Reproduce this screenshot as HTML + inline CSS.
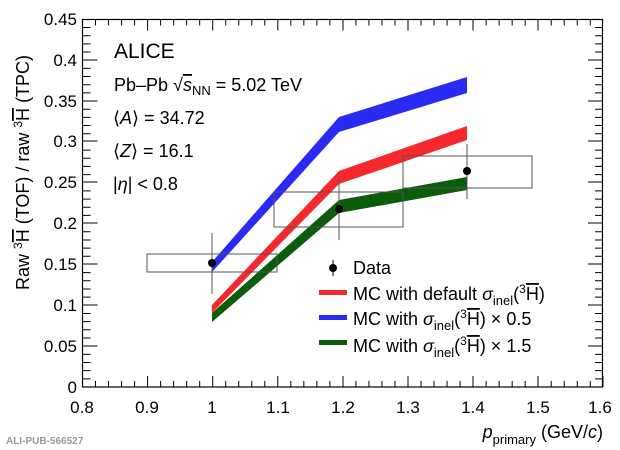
<!DOCTYPE html>
<html><head><style>body{margin:0;background:#fff}svg{display:block}text{font-family:"Liberation Sans",sans-serif}</style></head><body>
<svg width="620" height="450" xmlns="http://www.w3.org/2000/svg">
<rect width="620" height="450" fill="#fff"/>
<polygon points="212,262 339,117 467,77 467,93 339,132 212,272" fill="#2a2af5"/>
<polygon points="212,305 339,171 467,126 467,140 339,184 212,313" fill="#f5282d"/>
<polygon points="212,313 339,200 467,177 467,190 339,213 212,322" fill="#0b5c0b"/>
<g fill="none" stroke="#555" stroke-width="1">
<rect x="147" y="254" width="130" height="18"/>
<rect x="274" y="192" width="129" height="35"/>
<rect x="403" y="156" width="129" height="32"/>
<line x1="212" y1="233" x2="212" y2="294"/>
<line x1="339" y1="178" x2="339" y2="240"/>
<line x1="467" y1="144" x2="467" y2="199"/>
</g>
<circle cx="212" cy="263" r="4" fill="#000"/>
<circle cx="339" cy="209" r="4" fill="#000"/>
<circle cx="467" cy="171" r="4" fill="#000"/>
<rect x="82.5" y="19.5" width="520" height="367.5" fill="none" stroke="#000" stroke-width="1.2"/>
<g stroke="#000" stroke-width="1">
<path d="M82.5,387v-11M147.6,387v-11M212.7,387v-11M277.8,387v-11M343,387v-11M408,387v-11M473,387v-11M538,387v-11M603,387v-11"/>
<path d="M82.5,19.5v11M147.6,19.5v11M212.7,19.5v11M277.8,19.5v11M343,19.5v11M408,19.5v11M473,19.5v11M538,19.5v11"/>
<path d="M82.5,387h15M82.5,346h15M82.5,305h15M82.5,264h15M82.5,223h15M82.5,182h15M82.5,141h15M82.5,101h15M82.5,60h15M82.5,19.5h15"/>
<path d="M603,346h-15M603,305h-15M603,264h-15M603,223h-15M603,182h-15M603,141h-15M603,101h-15M603,60h-15"/>
</g>
<g stroke="#000" stroke-width="1" id="minor"></g>
<script>
var g=document.getElementById('minor'),d='';
for(var i=0;i<=40;i++){var x=82.5+i*13.02;if(i%5)d+='M'+x+',387v-6M'+x+',19.5v6';}
for(var j=0;j<=45;j++){var y=387-j*8.17;if(j%5)d+='M82.5,'+y+'h8M603,'+y+'h-8';}
var p=document.createElementNS('http://www.w3.org/2000/svg','path');p.setAttribute('d',d);g.appendChild(p);
</script>
<g font-size="17" text-anchor="middle" fill="#000">
<text x="82" y="413">0.8</text><text x="147" y="413">0.9</text><text x="212" y="413">1</text><text x="278" y="413">1.1</text><text x="343" y="413">1.2</text><text x="408" y="413">1.3</text><text x="473" y="413">1.4</text><text x="538" y="413">1.5</text><text x="600" y="413">1.6</text>
</g>
<g font-size="17" text-anchor="end" fill="#000">
<text x="77" y="393">0</text><text x="77" y="352">0.05</text><text x="77" y="311">0.1</text><text x="77" y="270">0.15</text><text x="77" y="229">0.2</text><text x="77" y="188">0.25</text><text x="77" y="147">0.3</text><text x="77" y="107">0.35</text><text x="77" y="66">0.4</text><text x="77" y="25">0.45</text>
</g>
<text x="603" y="438" font-size="18" text-anchor="end"><tspan font-style="italic">p</tspan><tspan font-size="13" dy="6">primary</tspan><tspan dy="-6"> (GeV/</tspan><tspan font-style="italic">c</tspan>)</text>
<text transform="translate(29,290) rotate(-90)" font-size="18">Raw <tspan font-size="12" dy="-7">3</tspan><tspan dy="7" text-decoration="overline">H</tspan> (TOF) / raw <tspan font-size="12" dy="-7">3</tspan><tspan dy="7" text-decoration="overline">H</tspan> (TPC)</text>
<text x="6" y="444" font-family="Liberation Mono" font-size="10" font-weight="bold" fill="#999">ALI-PUB-566527</text>
<text x="114" y="58" font-size="21">ALICE</text>
<text x="114" y="91" font-size="18">Pb–Pb √<tspan font-style="italic" text-decoration="overline">s</tspan><tspan font-size="13" dy="4">NN</tspan><tspan dy="-4"> = 5.02 TeV</tspan></text>
<text x="113" y="124" font-size="18">⟨<tspan font-style="italic">A</tspan>⟩ = 34.72</text>
<text x="113" y="157" font-size="18">⟨<tspan font-style="italic">Z</tspan>⟩ = 16.1</text>
<text x="113" y="190" font-size="18">|<tspan font-style="italic">η</tspan>| &lt; 0.8</text>
<line x1="333" y1="260" x2="333" y2="276" stroke="#000"/><circle cx="333" cy="268" r="4"/>
<text x="353" y="274" font-size="18">Data</text>
<rect x="319" y="290" width="28" height="5" fill="#f5282d"/>
<rect x="319" y="315" width="28" height="5" fill="#2a2af5"/>
<rect x="319" y="340" width="28" height="5" fill="#0b5c0b"/>
<text x="353" y="300" font-size="18">MC with default <tspan font-style="italic">σ</tspan><tspan font-size="13" dy="5">inel</tspan><tspan dy="-5">(</tspan><tspan font-size="12" dy="-7">3</tspan><tspan dy="7" text-decoration="overline">H</tspan>)</text>
<text x="353" y="325" font-size="18">MC with <tspan font-style="italic">σ</tspan><tspan font-size="13" dy="5">inel</tspan><tspan dy="-5">(</tspan><tspan font-size="12" dy="-7">3</tspan><tspan dy="7" text-decoration="overline">H</tspan>) × 0.5</text>
<text x="353" y="352" font-size="18">MC with <tspan font-style="italic">σ</tspan><tspan font-size="13" dy="5">inel</tspan><tspan dy="-5">(</tspan><tspan font-size="12" dy="-7">3</tspan><tspan dy="7" text-decoration="overline">H</tspan>) × 1.5</text>
</svg>
</body></html>
